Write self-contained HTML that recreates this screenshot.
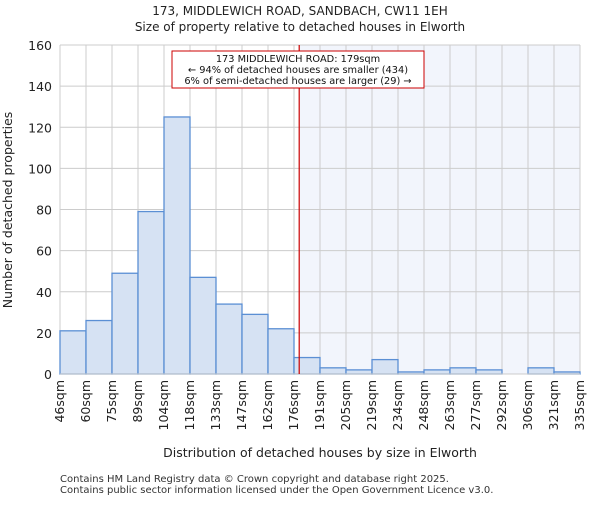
<!DOCTYPE html>
<html><head><meta charset="utf-8"><style>body{margin:0;background:#fff}svg{font-family:"DejaVu Sans","Liberation Sans",sans-serif}</style></head>
<body>
<svg id="c" width="600" height="500" xmlns="http://www.w3.org/2000/svg">
<text x="300" y="15" text-anchor="middle" font-size="12" fill="#222">173, MIDDLEWICH ROAD, SANDBACH, CW11 1EH</text>
<text x="300" y="31" text-anchor="middle" font-size="12" fill="#222">Size of property relative to detached houses in Elworth</text>
<g id="plot"></g>
<text x="320" y="457" text-anchor="middle" font-size="12.5" fill="#222">Distribution of detached houses by size in Elworth</text>
<text transform="translate(12,210) rotate(-90)" text-anchor="middle" font-size="12.5" fill="#222">Number of detached properties</text>
<text x="60" y="482" font-size="10" fill="#333">Contains HM Land Registry data © Crown copyright and database right 2025.</text>
<text x="60" y="493" font-size="10" fill="#333">Contains public sector information licensed under the Open Government Licence v3.0.</text>
</svg>
<script>
const categories=["46sqm","60sqm","75sqm","89sqm","104sqm","118sqm","133sqm","147sqm","162sqm","176sqm","191sqm","205sqm","219sqm","234sqm","248sqm","263sqm","277sqm","292sqm","306sqm","321sqm","335sqm"];
const counts=[21,26,49,79,125,47,34,29,22,8,3,2,7,1,2,3,2,0,3,1];
const yTicks=[0,20,40,60,80,100,120,140,160];
const markerBin=9.2;
const NS="http://www.w3.org/2000/svg";
const L=60,R=580,T=45,B=374,yMax=160;
const bw=(R-L)/counts.length;
const x=i=>L+i*bw, y=v=>B-v/yMax*(B-T);
const g=document.getElementById('plot');
function mk(t,a){const e=document.createElementNS(NS,t);for(const k in a)e.setAttribute(k,a[k]);g.appendChild(e);return e;}
const mx=x(markerBin);
let e=mk('rect',{x:mx,y:T,width:R-mx,height:B-T,fill:'#f2f5fc'});


for(let i=0;i<=counts.length;i++){e=mk('line',{x1:x(i),x2:x(i),y1:T,y2:B,stroke:'#ccc'});

}
yTicks.forEach(v=>{e=mk('line',{x1:L,x2:R,y1:y(v),y2:y(v),stroke:'#ccc'});


e=mk('text',{x:L-8,y:y(v)+5,'text-anchor':'end','font-size':'12.5',fill:'#222'});e.textContent=v;

});
counts.forEach((c,i)=>{if(c<=0)return;e=mk('rect',{x:x(i),y:y(c),width:bw,height:B-y(c),fill:'#d6e2f3',stroke:'#5b8fd4','stroke-width':1.3});

});
e=mk('line',{x1:L,x2:R,y1:B,y2:B,stroke:'#ccc'});


categories.forEach((c,i)=>{e=mk('text',{transform:`translate(${x(i)+4},${B+6}) rotate(-90)`,'text-anchor':'end','font-size':'12.5',fill:'#222'});e.textContent=c;

});
e=mk('line',{x1:mx,x2:mx,y1:T,y2:B,stroke:'#c00','stroke-width':1.2});


e=mk('rect',{x:172,y:51,width:252,height:37,fill:'#fff',stroke:'#c00'});


["173 MIDDLEWICH ROAD: 179sqm","← 94% of detached houses are smaller (434)","6% of semi-detached houses are larger (29) →"].forEach((t,i)=>{e=mk('text',{x:298,y:62+i*11,'text-anchor':'middle','font-size':'9.8',fill:'#111'});e.textContent=t;

});
</script>
</body></html>
